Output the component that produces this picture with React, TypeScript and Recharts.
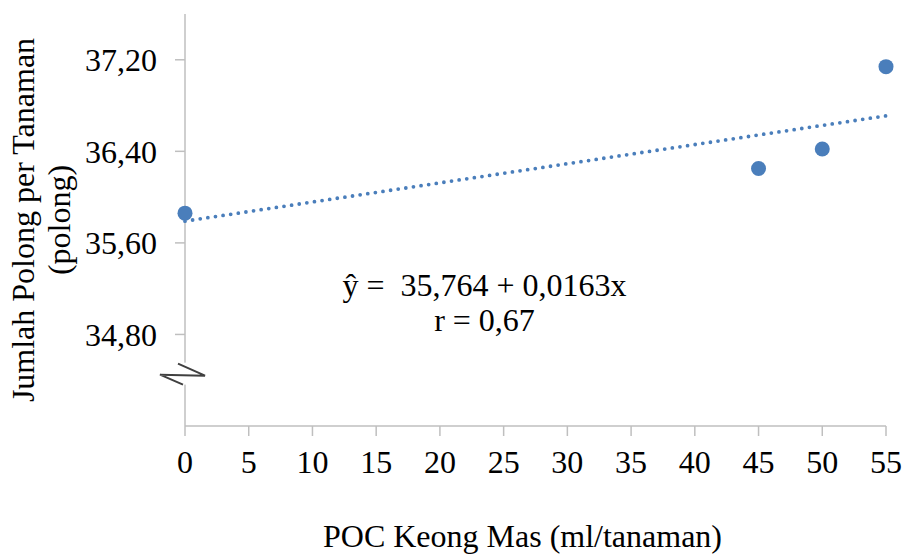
import React from 'react';
import { ScatterChart, Scatter, XAxis, YAxis, ReferenceDot } from 'recharts';

const doses = [0, 45, 50, 55];
const pods = [35.86, 36.25, 36.42, 37.14];
const trendX = [0, 55];
const trendY = [35.79, 36.71];
const xTicks = [0, 5, 10, 15, 20, 25, 30, 35, 40, 45, 50, 55];
const yTicks = [34.8, 35.6, 36.4, 37.2];
const equationLines = ['\u0177 =  35,764 + 0,0163x', 'r = 0,67'];
const xTitle = 'POC Keong Mas (ml/tanaman)';
const yTitleLines = ['Jumlah Polong per Tanaman', '(polong)'];

const points = doses.map((x, i) => ({ x, y: pods[i] }));
const trend = trendX.map((x, i) => ({ x, y: trendY[i] }));

const FONT = '"Liberation Serif", "Times New Roman", serif';
const FS = 32;
const BLUE = '#4a7ebb';
const AXIS = '#bfbfbf';

const tickStyle = { fontFamily: FONT, fontSize: FS, fill: '#000' };

const YTitle = (props: any) => {
  const vb = props.viewBox || {};
  const cy = (vb.y || 0) + (vb.height || 0) / 2;
  return (
    <g>
      <text transform={`translate(34, ${cy}) rotate(-90)`} textAnchor="middle" style={{ fontFamily: FONT, fontSize: FS, fill: '#000' }}>
        {yTitleLines[0]}
      </text>
      <text transform={`translate(70, ${cy}) rotate(-90)`} textAnchor="middle" style={{ fontFamily: FONT, fontSize: FS, fill: '#000' }}>
        {yTitleLines[1]}
      </text>
    </g>
  );
};

const XTitle = (props: any) => {
  const vb = props.viewBox || {};
  const cx = (vb.x || 0) + (vb.width || 0) / 2 - 13;
  return (
    <text x={cx} y={(vb.y || 0) + 121} textAnchor="middle" style={{ fontFamily: FONT, fontSize: FS, fill: '#000' }}>
      {xTitle}
    </text>
  );
};

const BreakMark = (props: any) => {
  const { cx, cy } = props;
  return (
    <g>
      <rect x={cx - 26} y={cy - 13} width={58} height={22} fill="#fff" />
      <polyline
        points={`${cx - 7},${cy - 12} ${cx + 20},${cy} ${cx - 25},${cy - 1} ${cx - 2},${cy + 9}`}
        fill="none"
        stroke="#404040"
        strokeWidth={2}
      />
    </g>
  );
};

const Equation = (props: any) => {
  const { cx, cy } = props;
  return (
    <g style={{ fontFamily: FONT, fontSize: FS, fill: '#000' }}>
      <text x={cx} y={cy} textAnchor="middle" style={{ whiteSpace: 'pre' }} xmlSpace="preserve">
        {equationLines[0]}
      </text>
      <text x={cx} y={cy + 35} textAnchor="middle">
        {equationLines[1]}
      </text>
    </g>
  );
};

const Dot = (props: any) => <circle cx={props.cx} cy={props.cy} r={7.5} fill={BLUE} />;

export default function App() {
  return (
    <div style={{ position: 'absolute', left: 0, top: 0, background: '#fff' }}>
      <ScatterChart width={904} height={554} margin={{ top: 14, right: 18, bottom: 68, left: 0 }}>
        <XAxis
          type="number"
          dataKey="x"
          domain={[0, 55]}
          ticks={xTicks}
          interval={0}
          tickSize={10}
          tickMargin={14}
          height={60}
          axisLine={{ stroke: AXIS, strokeWidth: 1.5 }}
          tickLine={{ stroke: AXIS, strokeWidth: 1.5 }}
          tick={tickStyle}
          label={<XTitle />}
        />
        <YAxis
          type="number"
          dataKey="y"
          domain={[34, 37.6]}
          ticks={yTicks}
          interval={0}
          width={185}
          tickSize={10}
          tickMargin={18}
          axisLine={{ stroke: AXIS, strokeWidth: 1.5 }}
          tickLine={{ stroke: AXIS, strokeWidth: 1.5 }}
          tick={tickStyle}
          tickFormatter={(v: number) => v.toFixed(2).replace('.', ',')}
          label={<YTitle />}
        />
        <ReferenceDot x={0} y={34.44} shape={BreakMark} ifOverflow="visible" />
        <Scatter
          data={trend}
          isAnimationActive={false}
          line={{ stroke: BLUE, strokeWidth: 3.8, strokeDasharray: '0 7.7', strokeLinecap: 'round' }}
          lineType="joint"
          shape={() => null}
        />
        <Scatter data={points} isAnimationActive={false} shape={Dot} />
        <ReferenceDot x={23.5} y={35.14} shape={Equation} ifOverflow="visible" />
      </ScatterChart>
    </div>
  );
}
